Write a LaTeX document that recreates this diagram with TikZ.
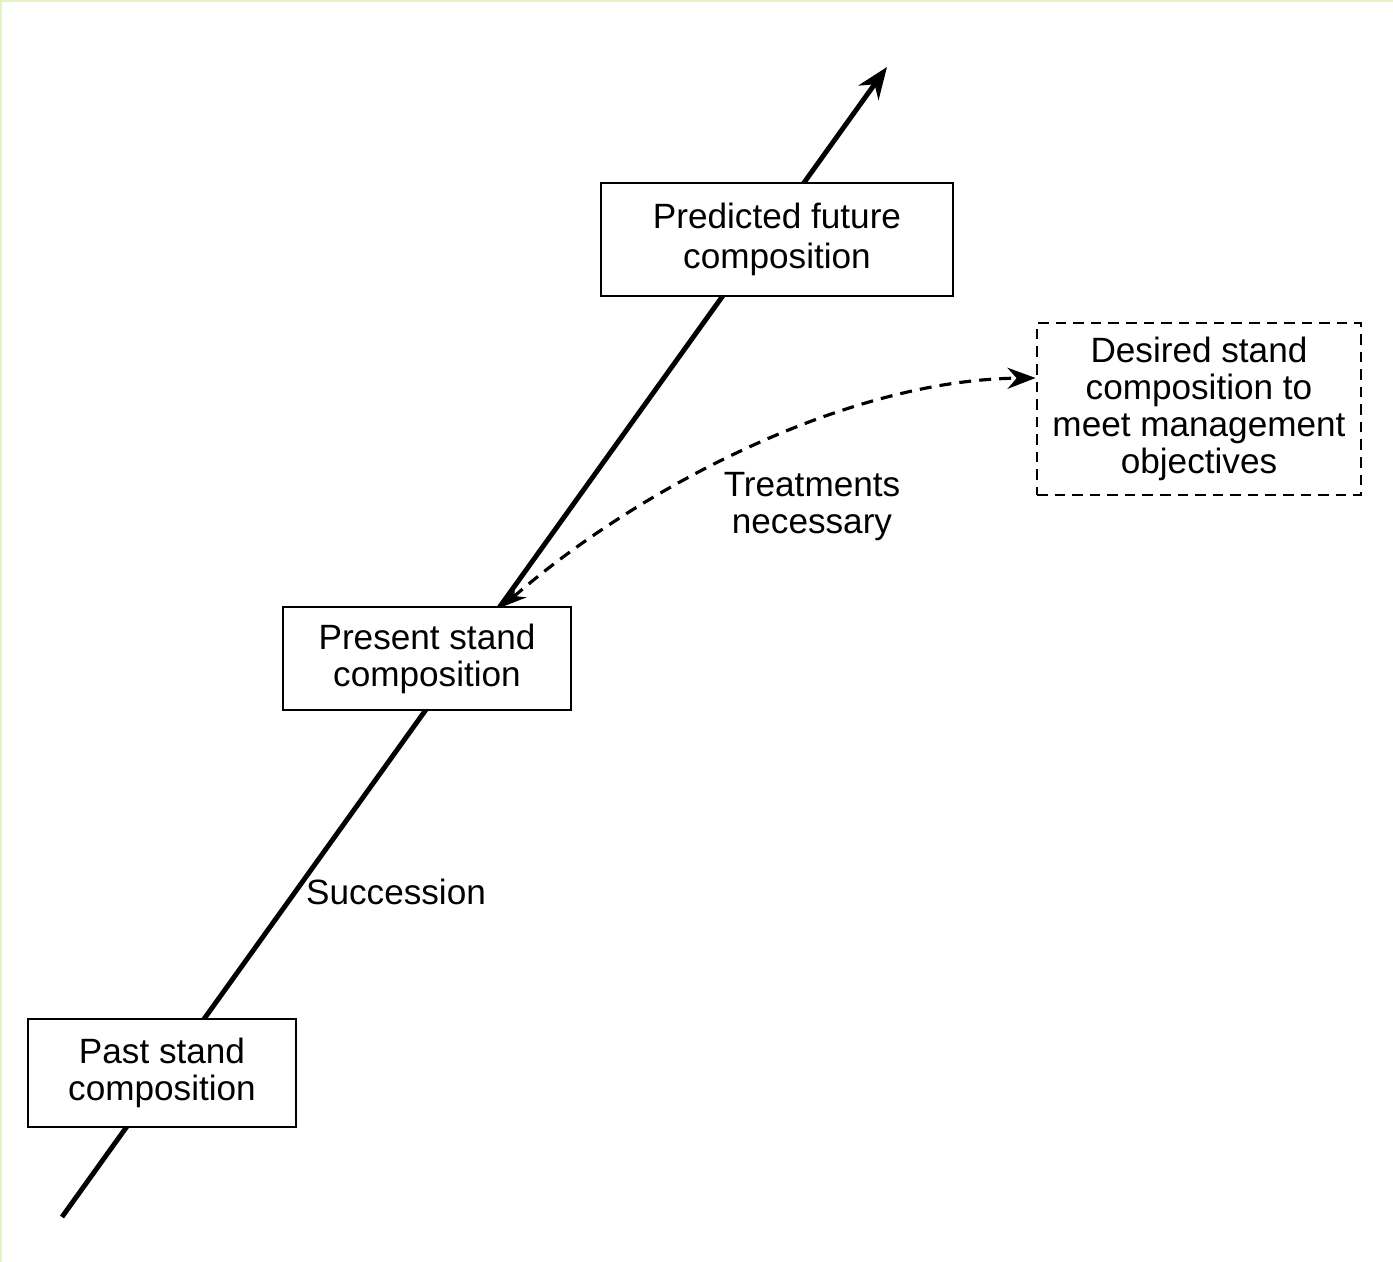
\documentclass[tikz,border=0pt]{standalone}
\usepackage{fontspec}
\setmainfont{Liberation Sans}
\usepackage{tikz}
\usetikzlibrary{arrows.meta,positioning}
\definecolor{scangreen}{RGB}{226,244,196}

\begin{document}
\begin{tikzpicture}[font=\fontsize{10}{10.5}\selectfont,
  box/.style={draw, line width=0.8pt, fill=white, align=center, inner sep=0pt},
  dashbox/.style={box, dash pattern=on 3pt off 2pt},
  lbl/.style={align=center, inner sep=1pt}]
  \useasboundingbox (0,0) rectangle (13.93,12.62);
  \draw[scangreen, line width=0.8pt] (0.01,0) -- (0.01,12.61) -- (13.93,12.61);

  % succession line, boxes sit on top of it
  \coordinate (start) at (0.62,0.45);
  \coordinate (tip) at (8.87,11.95);
  \draw[line width=1.4pt, -{Stealth[length=9pt,width=7pt]}] (start) -- (tip);

  \node[box, minimum width=2.68cm, minimum height=1.08cm] (past) at (1.62,1.89) {Past stand\\composition};
  \node[box, minimum width=2.88cm, minimum height=1.03cm] (present) at (4.27,6.035) {Present stand\\composition};
  \node[box, minimum width=3.52cm, minimum height=1.13cm, font=\fontsize{10}{11.4}\selectfont] (future) at (7.77,10.225) {Predicted future\\composition};
  \node[dashbox, minimum width=3.24cm, minimum height=1.72cm] (desired) at (11.99,8.53) {Desired stand\\composition to\\meet management\\objectives};

  \node[lbl] (succ) at (3.96,3.70) {Succession};
  \node[lbl] (treat) at (8.12,7.55) {Treatments\\necessary};

  % treatments curve
  \coordinate (meet) at (5.02,6.55);
  \coordinate (goal) at ([yshift=3.1mm]desired.west);
  \draw[line width=0.9pt, dash pattern=on 3.4pt off 2.3pt,
    {Stealth[length=7pt,width=5pt]}-{Stealth[length=8pt,width=6pt]}]
    (meet) .. controls (6.30,7.67) and (8.40,8.82) .. (goal);
\end{tikzpicture}
\end{document}
